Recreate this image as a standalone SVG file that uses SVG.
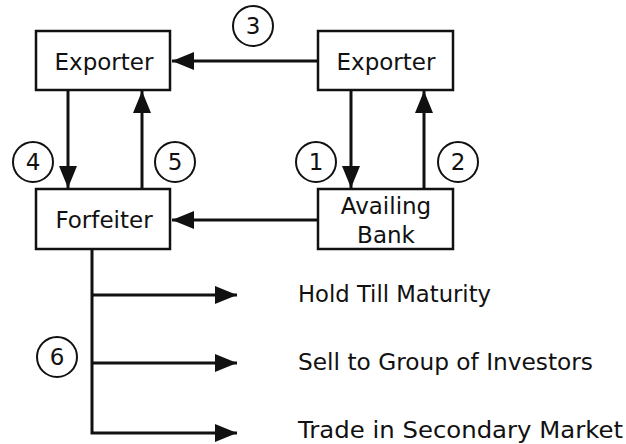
<svg xmlns="http://www.w3.org/2000/svg" width="626" height="444" viewBox="0 0 626 444">
<style>
.box{fill:#fff;stroke:#111;stroke-width:2.5}
.lbl{font-family:"DejaVu Sans","Liberation Sans",sans-serif;font-size:23px;fill:#111;text-anchor:middle}
.out{font-family:"DejaVu Sans","Liberation Sans",sans-serif;font-size:23px;fill:#111}
.num{font-family:"DejaVu Sans","Liberation Sans",sans-serif;font-size:23px;fill:#111;text-anchor:middle}
.circ{fill:#fff;stroke:#111;stroke-width:2}
.ln{fill:none;stroke:#111;stroke-width:3}
</style>
<defs>
<marker id="ah" markerUnits="userSpaceOnUse" markerWidth="24" markerHeight="20" refX="22" refY="9" orient="auto">
<path d="M0,0 L22,9 L0,18 Z" fill="#111"/>
</marker>
</defs>
<g id="connectors">
<line class="ln" x1="318" y1="61" x2="172" y2="61" marker-end="url(#ah)"/>
<line class="ln" x1="68" y1="90" x2="68" y2="188" marker-end="url(#ah)"/>
<line class="ln" x1="142" y1="189" x2="142" y2="91" marker-end="url(#ah)"/>
<line class="ln" x1="351" y1="90" x2="351" y2="188" marker-end="url(#ah)"/>
<line class="ln" x1="424" y1="189" x2="424" y2="91" marker-end="url(#ah)"/>
<line class="ln" x1="318" y1="220" x2="172" y2="220" marker-end="url(#ah)"/>
<polyline class="ln" points="92,249 92,433 237,433" marker-end="url(#ah)"/>
<line class="ln" x1="92" y1="295" x2="237" y2="295" marker-end="url(#ah)"/>
<line class="ln" x1="92" y1="363" x2="237" y2="363" marker-end="url(#ah)"/>
</g>
<g id="exporter-left">
<rect class="box" x="36" y="31" width="134" height="59"/>
<text class="lbl" x="104" y="70">Exporter</text>
</g>
<g id="exporter-right">
<rect class="box" x="318" y="31" width="135" height="59"/>
<text class="lbl" x="386" y="70">Exporter</text>
</g>
<g id="forfeiter">
<rect class="box" x="36" y="189" width="134" height="60"/>
<text class="lbl" x="104" y="228">Forfeiter</text>
</g>
<g id="availing-bank">
<rect class="box" x="318" y="189" width="135" height="60"/>
<text class="lbl" x="386" y="214">Availing</text>
<text class="lbl" x="386" y="243">Bank</text>
</g>
<g id="n3"><circle class="circ" cx="253" cy="26" r="20"/><text class="num" x="253" y="34">3</text></g>
<g id="n4"><circle class="circ" cx="33" cy="162" r="20"/><text class="num" x="33" y="170">4</text></g>
<g id="n5"><circle class="circ" cx="175" cy="162" r="20"/><text class="num" x="175" y="170">5</text></g>
<g id="n1"><circle class="circ" cx="316" cy="162" r="20"/><text class="num" x="316" y="170">1</text></g>
<g id="n2"><circle class="circ" cx="458" cy="162" r="20"/><text class="num" x="458" y="170">2</text></g>
<g id="n6"><circle class="circ" cx="57" cy="357" r="20"/><text class="num" x="57" y="365">6</text></g>
<g id="outcomes">
<text class="out" x="298" y="302" textLength="193" lengthAdjust="spacingAndGlyphs">Hold Till Maturity</text>
<text class="out" x="298" y="370" textLength="295" lengthAdjust="spacingAndGlyphs">Sell to Group of Investors</text>
<text class="out" x="298" y="438" textLength="325" lengthAdjust="spacingAndGlyphs">Trade in Secondary Market</text>
</g>
</svg>
